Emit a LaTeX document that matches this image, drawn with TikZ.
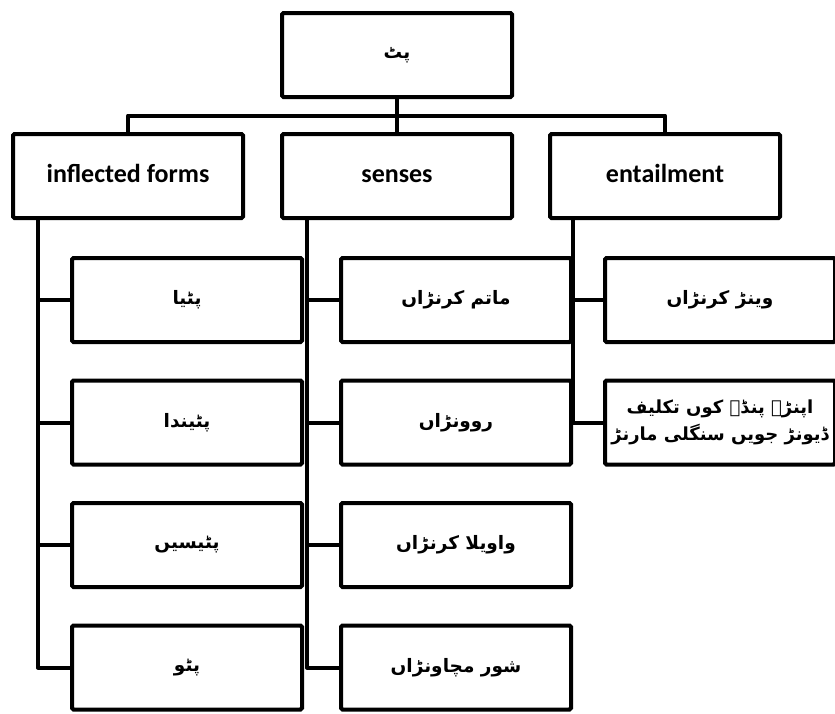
\documentclass[tikz,border=0pt]{standalone}
\usepackage{fontspec}
\setmainfont{Carlito}
\newfontfamily\arabicfont[Script=Arabic]{DejaVu Sans}
\TeXXeTstate=1
\usetikzlibrary{positioning}
\tikzset{TreeBox/.style={%
    shape=rectangle,%
    draw=black,%
    fill=white,%
    line width=4pt,%
    rounded corners=1.5pt,%
    minimum width=230pt,%
    minimum height=84pt,%
    inner sep=0pt,%
    outer sep=0pt,%
    align=center,%
}}
\tikzset{HeadBox/.style={%
    TreeBox,%
    font=\fontsize{26}{30}\selectfont\bfseries,%
    text height=18pt,%
    text depth=5pt,%
}}
\tikzset{LeafBox/.style={%
    TreeBox,%
    font=\arabicfont\fontsize{18.5}{28}\selectfont\bfseries,%
}}
\tikzset{LinkEdge/.style={%
    -,%
    line width=4pt,%
    line join=round,%
}}
\NewDocumentCommand{\rtlText}{m}{\beginR #1\endR}

\begin{document}
\begin{tikzpicture}[x=1pt, y=1pt]
    \useasboundingbox (0,0) rectangle (835,-713);
    \node[LeafBox] (s0) at (397,-55) {\rtlText{پٹ}};
    \node[HeadBox, below=37pt of s0] (s11) {senses};
    \node[HeadBox, left=39pt of s11] (s10) {inflected forms};
    \node[HeadBox, right=38pt of s11] (s12) {entailment};

    \node[LeafBox, below=40pt of s10, xshift=59pt] (a1) {\rtlText{پٹیا}};
    \node[LeafBox, below=38.5pt of a1] (a2) {\rtlText{پٹیندا}};
    \node[LeafBox, below=38.5pt of a2] (a3) {\rtlText{پٹیسیں}};
    \node[LeafBox, below=38.5pt of a3] (a4) {\rtlText{پٹو}};
    \node[LeafBox, right=39pt of a1] (b1) {\rtlText{ماتم کرنڑاں}};
    \node[LeafBox, below=38.5pt of b1] (b2) {\rtlText{روونڑاں}};
    \node[LeafBox, below=38.5pt of b2] (b3) {\rtlText{واویلا کرنڑاں}};
    \node[LeafBox, below=38.5pt of b3] (b4) {\rtlText{شور مچاونڑاں}};
    \node[LeafBox, right=34pt of b1] (c1) {\rtlText{وینڑ کرنڑاں}};
    \node[LeafBox, below=38.5pt of c1, font=\arabicfont\fontsize{18}{27}\selectfont\bfseries] (c2)
        {\makebox[220pt]{\rtlText{اپنڑے پنڈے کوں تکلیف}}\\
         \makebox[220pt]{\rtlText{ڈیونڑ جویں سنگلی مارنڑ}}};

    \path (s0.south) -- coordinate (bar) (s11.north);
    \draw[LinkEdge] (s0.south) -- (s11.north);
    \draw[LinkEdge] (s10.north) |- (bar) -| (s12.north);
    \foreach \n in {a1,a2,a3,a4} {
        \draw[LinkEdge] ([xshift=25pt]s10.south west) |- (\n.west);
    }
    \foreach \n in {b1,b2,b3,b4} {
        \draw[LinkEdge] ([xshift=25pt]s11.south west) |- (\n.west);
    }
    \foreach \n in {c1,c2} {
        \draw[LinkEdge] ([xshift=23pt]s12.south west) |- (\n.west);
    }
\end{tikzpicture}
\end{document}
